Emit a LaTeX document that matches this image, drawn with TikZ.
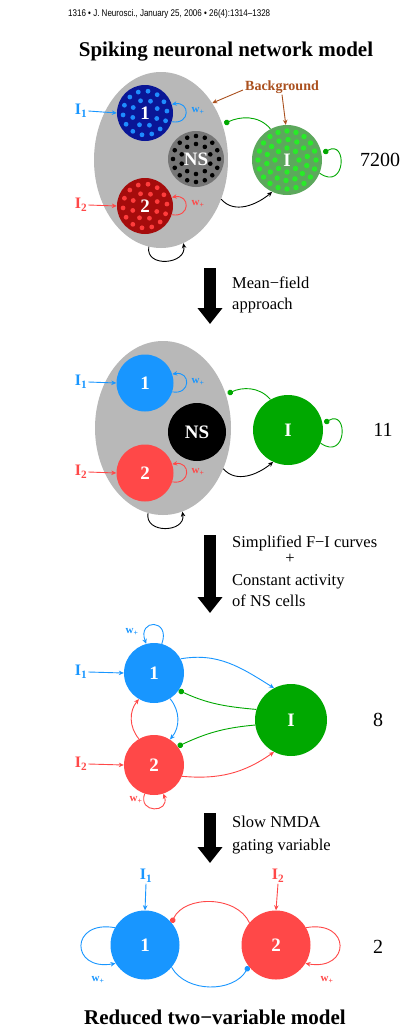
\documentclass[tikz,border=0pt]{standalone}
\usepackage{fontspec}
\usepackage{graphicx}
\setmainfont{Liberation Serif}
\newfontfamily\hdrfont{Liberation Sans}
\usetikzlibrary{arrows.meta,shapes.geometric}

\definecolor{cblue}{RGB}{24,150,255}
\definecolor{cred}{RGB}{255,72,72}
\definecolor{cgreen}{RGB}{0,168,0}
\definecolor{cgrey}{RGB}{184,184,184}
\definecolor{dblue}{RGB}{10,22,150}
\definecolor{dotblue}{RGB}{30,140,255}
\definecolor{dred}{RGB}{165,12,12}
\definecolor{dotred}{RGB}{255,60,60}
\definecolor{nsgrey}{RGB}{118,118,118}
\definecolor{igreen}{RGB}{92,168,92}
\definecolor{dotgreen}{RGB}{40,235,40}
\definecolor{bgbrown}{RGB}{170,80,30}

% ring of small dots inside a population node
\newcommand\dotring[6]{\foreach \k in {1,...,#2}{\fill[#5] ([shift={({\k*360/#2+#4}:#3pt)}]#1.center) circle (#6pt);}}

\begin{document}
\begin{tikzpicture}[x=1pt,y=-1pt,
  cell/.style={circle, inner sep=0pt, minimum size=#1},
  lbl/.style={font=\fontsize{19}{19}\selectfont\bfseries, text=white, inner sep=0pt},
  inp/.style={font=\fontsize{16}{16}\selectfont\bfseries, inner sep=1pt},
  wlab/.style={font=\fontsize{11}{11}\selectfont\bfseries, inner sep=0pt},
  cnx/.style={line width=0.9pt},
  arr/.style={cnx, -{Stealth[length=5pt,width=4.5pt]}},
  inh/.style={cnx, -{Circle[length=5.5pt]}},
  count/.style={font=\fontsize{20}{20}\selectfont, inner sep=0pt},
  note/.style={font=\fontsize{16.5}{16.5}\selectfont, anchor=base west, inner sep=0pt},
  bigarrow/.style={line width=12pt, -{Triangle[width=24pt,length=16pt]}},
  ttl/.style={font=\fontsize{21}{21}\selectfont\bfseries, inner sep=0pt}]

\useasboundingbox (0,0) rectangle (408,1031);
\fill[white] (0,0) rectangle (408,1031);

% running head and title
\node[anchor=base west, inner sep=0pt] (hdr) at (68,16)
  {\resizebox{202pt}{7pt}{\hdrfont 1316 • J. Neurosci., January 25, 2006 • 26(4):1314–1328}};
\node[ttl] (title) at (226,52) {Spiking neuronal network model};

% ---------- spiking network ----------
\node[ellipse, fill=cgrey, minimum width=134, minimum height=176, inner sep=0pt] (E1) at (161,160) {};
\node[cell=56, fill=dblue] (a1) at (145,113) {};
\dotring{a1}{14}{22}{5}{dotblue}{2.4}
\dotring{a1}{8}{13}{20}{dotblue}{2.4}
\node[lbl] (a1t) at (a1) {1};
\node[cell=56, fill=dred] (a2) at (145,206) {};
\dotring{a2}{14}{22}{5}{dotred}{2.4}
\dotring{a2}{8}{13}{20}{dotred}{2.4}
\node[lbl] (a2t) at (a2) {2};
\node[cell=56, fill=nsgrey] (ans) at (196,159) {};
\dotring{ans}{16}{23}{0}{black}{2.3}
\dotring{ans}{10}{15}{18}{black}{2.3}
\node[lbl] (anst) at (ans) {NS};
\node[cell=70, fill=igreen] (aI) at (287,160) {};
\dotring{aI}{20}{29}{0}{dotgreen}{2.7}
\dotring{aI}{14}{20.5}{10}{dotgreen}{2.7}
\dotring{aI}{8}{12}{0}{dotgreen}{2.7}
\node[lbl] (aIt) at (aI) {I};

\node[inp, text=cblue] (i1a) at (81,111) {I\textsubscript{1}};
\draw[arr, cblue] (i1a.east) -- (a1.west);
\node[inp, text=cred] (i2a) at (81,205) {I\textsubscript{2}};
\draw[arr, cred] (i2a.east) -- (a2.west);
\draw[arr, cblue] (a1.-18) .. controls +(-10:19pt) and +(10:19pt) .. (a1.18);
\node[wlab, text=cblue] (w1a) at (198,111) {w\textsubscript{+}};
\draw[arr, cred] (a2.-18) .. controls +(-10:19pt) and +(10:19pt) .. (a2.18);
\node[wlab, text=cred] (w2a) at (198,204) {w\textsubscript{+}};

\node[text=bgbrown, font=\fontsize{14}{14}\selectfont\bfseries, inner sep=0pt] (bg) at (282,87) {Background};
\draw[arr, bgbrown] ([shift={(-2pt,-3pt)}]bg.west) -- (E1.48);
\draw[arr, bgbrown] ([yshift=-1pt]bg.south) -- (aI.92);

\draw[inh, cgreen, shorten >=2pt] (aI.118) to[out=130, in=25] (E1.30);
\draw[inh, cgreen, shorten >=2pt] (aI.-22) .. controls +(-35:32pt) and +(30:30pt) .. (aI.10);
\draw[arr] (E1.-33) to[out=-50, in=-140] (aI.-115);
\draw[arr] (E1.-98) to[out=-100, in=-80, looseness=1.6] (E1.-75);

\node[count, anchor=west] (n7200) at (360,160) {7200};

% mean-field step
\coordinate (m1a) at (210,268);
\coordinate (m1b) at (210,324);
\draw[bigarrow] (m1a) -- (m1b);
\node[note] (t1a) at (232,288) {Mean−field};
\node[note] (t1b) at (232,309) {approach};

% ---------- mean-field network ----------
\node[ellipse, fill=cgrey, minimum width=136, minimum height=174, inner sep=0pt] (E2) at (163,428) {};
\node[cell=57, fill=cblue, lbl] (d1) at (145,383) {1};
\node[cell=57, fill=cred, lbl] (d2) at (145,473) {2};
\node[cell=58, fill=black, lbl] (dns) at (197,432) {NS};
\node[cell=70, fill=cgreen, lbl] (dI) at (288,430) {I};

\node[inp, text=cblue] (i1b) at (81,382) {I\textsubscript{1}};
\draw[arr, cblue] (i1b.east) -- (d1.west);
\node[inp, text=cred] (i2b) at (81,472) {I\textsubscript{2}};
\draw[arr, cred] (i2b.east) -- (d2.west);
\draw[arr, cblue] (d1.-18) .. controls +(-10:19pt) and +(10:19pt) .. (d1.18);
\node[wlab, text=cblue] (w1b) at (198,382) {w\textsubscript{+}};
\draw[arr, cred] (d2.-18) .. controls +(-10:19pt) and +(10:19pt) .. (d2.18);
\node[wlab, text=cred] (w2b) at (198,472) {w\textsubscript{+}};

\draw[inh, cgreen, shorten >=2pt] (dI.120) to[out=130, in=25] (E2.28);
\draw[inh, cgreen, shorten >=2pt] (dI.-22) .. controls +(-35:32pt) and +(30:30pt) .. (dI.10);
\draw[arr] (E2.-34) to[out=-50, in=-140] (dI.-115);
\draw[arr] (E2.-100) to[out=-100, in=-80, looseness=1.6] (E2.-77);

\node[count] (n11) at (383,430) {11};

% reduction step
\coordinate (m2a) at (210,535);
\coordinate (m2b) at (210,613);
\draw[bigarrow] (m2a) -- (m2b);
\node[note] (t2a) at (232,547) {Simplified F−I curves};
\node[font=\fontsize{16.5}{16.5}\selectfont, inner sep=0pt] (t2b) at (290,559) {+};
\node[note] (t2c) at (232,585) {Constant activity};
\node[note] (t2d) at (232,606) {of NS cells};

% ---------- three-population network ----------
\node[cell=60, fill=cblue, lbl] (b1) at (154,673) {1};
\node[cell=60, fill=cred, lbl] (b2) at (154,765) {2};
\node[cell=72, fill=cgreen, lbl] (bI) at (291,720) {I};

\node[inp, text=cblue] (i1c) at (81,672) {I\textsubscript{1}};
\draw[arr, cblue] (i1c.east) -- (b1.west);
\node[inp, text=cred] (i2c) at (81,764) {I\textsubscript{2}};
\draw[arr, cred] (i2c.east) -- (b2.west);

\draw[arr, cblue] (b1.75) .. controls +(70:27pt) and +(110:27pt) .. (b1.105);
\node[wlab, text=cblue] (w1c) at (132,632) {w\textsubscript{+}};
\draw[arr, cred] (b2.-108) .. controls +(-110:21pt) and +(-70:21pt) .. (b2.-72);
\node[wlab, text=cred] (w2c) at (136,800) {w\textsubscript{+}};

\draw[arr, cblue] (b1.-58) to[out=-50, in=50] (b2.58);
\draw[arr, cred] (b2.120) to[out=130, in=-130] (b1.-120);
\draw[arr, cblue] (b1.28) to[out=10, in=148] (bI.118);
\draw[arr, cred] (b2.-22) to[out=-5, in=-145] (bI.-118);
\draw[inh, cgreen] (bI.163) to[out=175, in=-25] (b1.-35);
\draw[inh, cgreen] (bI.-172) to[out=185, in=25] (b2.38);

\node[count] (n8) at (378,720) {8};

% slow-variable step
\coordinate (m3a) at (210,813);
\coordinate (m3b) at (210,863);
\draw[bigarrow] (m3a) -- (m3b);
\node[note] (t3a) at (232,827) {Slow NMDA};
\node[note] (t3b) at (232,850) {gating variable};

% ---------- two-variable model ----------
\node[cell=69, fill=cblue, lbl] (c1) at (145,945) {1};
\node[cell=69, fill=cred, lbl] (c2) at (276,945) {2};

\node[inp, text=cblue] (i1d) at (146,876) {I\textsubscript{1}};
\draw[arr, cblue] (i1d.south) -- (c1.north);
\node[inp, text=cred] (i2d) at (278,876) {I\textsubscript{2}};
\draw[arr, cred] (i2d.south) -- (c2.north);

\draw[inh, cred] (c2.140) to[out=115, in=65] (c1.40);
\draw[inh, cblue] (c1.-40) to[out=-60, in=-120] (c2.-142);
\draw[arr, cblue] (c1.150) .. controls +(170:46pt) and +(190:46pt) .. (c1.-148);
\node[wlab, text=cblue] (w1d) at (98,980) {w\textsubscript{+}};
\draw[arr, cred] (c2.30) .. controls +(10:46pt) and +(-10:46pt) .. (c2.-32);
\node[wlab, text=cred] (w2d) at (327,980) {w\textsubscript{+}};

\node[count] (n2) at (378,947) {2};

\node[ttl] (title2) at (215,1017) {Reduced two−variable model};
\end{tikzpicture}
\end{document}
